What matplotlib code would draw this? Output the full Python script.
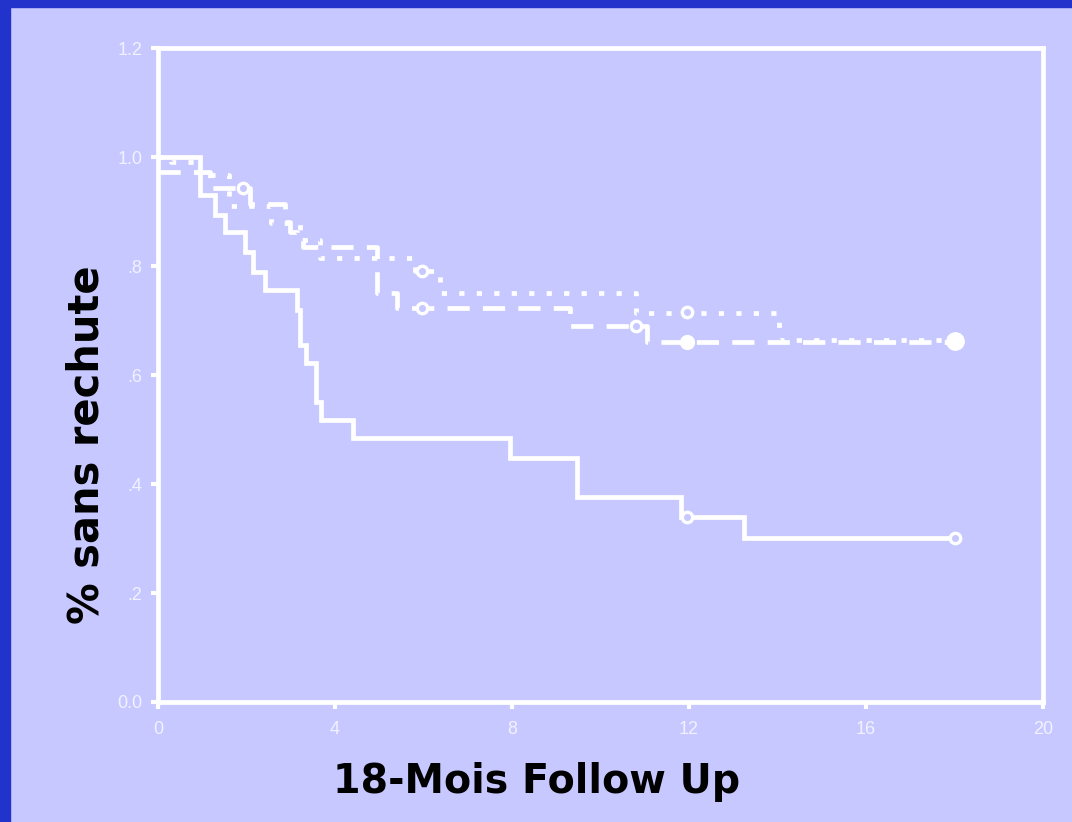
import numpy as np
import matplotlib.pyplot as plt
from matplotlib.patches import Rectangle

# Courbes de survie sans rechute
t_solid = [0, 0.95, 1.29, 1.51, 1.96, 2.15, 2.42, 3.14, 3.2, 3.35, 3.57, 3.68, 4.4, 7.95, 9.46, 11.83, 13.25, 18]
s_solid = [1.0, 0.93, 0.894, 0.862, 0.826, 0.789, 0.756, 0.719, 0.655, 0.622, 0.55, 0.517, 0.484, 0.448, 0.376, 0.34, 0.301, 0.301]
cens_solid_t = [11.96, 18]
cens_solid_s = [0.34, 0.301]

t_dash = [0, 1.17, 2.08, 2.87, 2.98, 3.14, 3.27, 4.94, 5.4, 9.3, 11.04, 18]
s_dash = [0.973, 0.943, 0.914, 0.88, 0.862, 0.848, 0.835, 0.75, 0.723, 0.69, 0.66, 0.66]
cens_dash_t = [1.92, 5.96, 10.8]
cens_dash_s = [0.943, 0.723, 0.69]
fill_dash_t = [11.96]
fill_dash_s = [0.66]

t_dot = [0, 0.3, 0.9, 1.6, 2.55, 3.2, 3.66, 5.8, 6.37, 10.81, 14.04, 18]
s_dot = [1.0, 0.99, 0.967, 0.91, 0.879, 0.848, 0.815, 0.79, 0.75, 0.714, 0.664, 0.664]
cens_dot_t = [5.96, 11.96]
cens_dot_s = [0.79, 0.716]

end_t = [18]
end_s = [0.663]

xticks = [0, 4, 8, 12, 16, 20]
yticks = [0.0, 0.2, 0.4, 0.6, 0.8, 1.0, 1.2]
ylabels = ["0.0", ".2", ".4", ".6", ".8", "1.0", "1.2"]

bg = "#C6C8FF"
white = "white"
txt = "#F2F2FF"

fig = plt.figure(figsize=(10.72, 8.22), dpi=100, facecolor=bg)
# bordure bleue
fig.patches.append(Rectangle((0, 0), 10 / 1072, 1, transform=fig.transFigure, color="#2233CC", zorder=0))
fig.patches.append(Rectangle((0, 1 - 7 / 822), 1, 7 / 822, transform=fig.transFigure, color="#2233CC", zorder=0))

ax = fig.add_axes([158 / 1072, 1 - 702 / 822, (1043 - 158) / 1072, (702 - 48) / 822])
ax.set_facecolor(bg)

lw = 3.4
ax.step(t_solid, s_solid, where="post", color=white, lw=lw, solid_joinstyle="miter")
ax.step(t_dash, s_dash, where="post", color=white, lw=lw, linestyle=(0, (4.7, 2.8)))
ax.step(t_dot, s_dot, where="post", color=white, lw=lw, linestyle=(0, (1.1, 2.6)))

ax.plot(cens_solid_t, cens_solid_s, "o", ms=7.5, mfc=bg, mec=white, mew=2.4)
ax.plot(cens_dash_t, cens_dash_s, "o", ms=7.5, mfc=bg, mec=white, mew=2.4)
ax.plot(cens_dot_t, cens_dot_s, "o", ms=7.5, mfc=bg, mec=white, mew=2.4)
ax.plot(fill_dash_t, fill_dash_s, "o", ms=10, color=white)
ax.plot(end_t, end_s, "o", ms=12.5, color=white)

ax.set_xlim(0, 20)
ax.set_ylim(0, 1.2)
ax.set_xticks(xticks)
ax.set_yticks(yticks)
ax.set_yticklabels(ylabels)

for sp in ax.spines.values():
    sp.set_color(white)
    sp.set_linewidth(3.4)

ax.tick_params(colors=white, labelcolor=txt, width=3, length=5, labelsize=13)
ax.tick_params(axis="x", pad=9)
ax.tick_params(axis="y", pad=6)
for lab in ax.get_xticklabels() + ax.get_yticklabels():
    lab.set_fontfamily("Liberation Sans")

ax.set_xlabel("18-Mois Follow Up", fontsize=28.5, fontweight="bold", color="black")
ax.set_ylabel("% sans rechute", fontsize=30, fontweight="bold", color="black")
ax.xaxis.set_label_coords(0.428, -0.092)
ax.yaxis.set_label_coords(-0.057, 0.393)

fig.savefig("out.png", dpi=100, facecolor=bg)
